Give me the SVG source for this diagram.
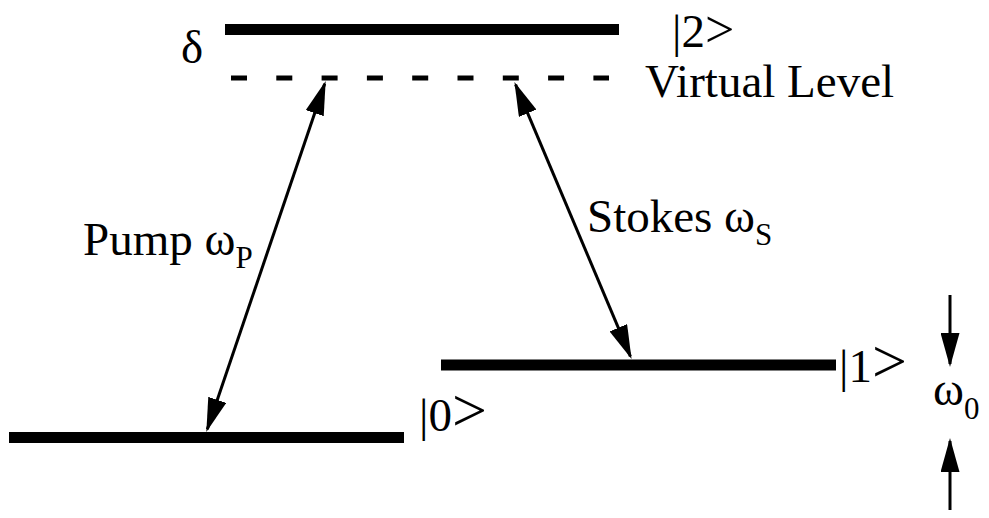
<svg xmlns="http://www.w3.org/2000/svg" width="989" height="518" viewBox="0 0 989 518">
  <style>
    text { font-family: 'Liberation Serif', 'Times New Roman', 'DejaVu Serif', serif; font-size: 47px; fill: #000; }
    .sub { font-size: 31px; }
    .ket { font-size: 62px; }
    .ket-top { font-size: 52px; }
    .level { stroke: #000; stroke-width: 11; fill: none; }
    .virtual { stroke: #000; stroke-width: 5; stroke-dasharray: 16 29.3; fill: none; }
    .arrow { stroke: #000; stroke-width: 3; fill: none; marker-end: url(#head); marker-start: url(#head); }
    .single { stroke: #000; stroke-width: 3; fill: none; marker-end: url(#head); }
  </style>
  <defs>
    <marker id="head" viewBox="0 0 34 19" refX="31" refY="9.5" markerWidth="34" markerHeight="19" markerUnits="userSpaceOnUse" orient="auto-start-reverse">
      <path d="M0,0 L34,9.5 L0,19 z" fill="#000"/>
    </marker>
  </defs>
  <rect width="989" height="518" fill="#fff"/>

  <g id="level2">
    <line class="level" x1="225" y1="29.5" x2="619" y2="29.5"/>
    <text x="672" y="47">|2<tspan class="ket-top">&gt;</tspan></text>
  </g>
  <g id="delta">
    <text x="181" y="63">δ</text>
  </g>
  <g id="virtual">
    <line class="virtual" x1="231" y1="78" x2="609" y2="78"/>
    <text x="645" y="97">Virtual Level</text>
  </g>
  <g id="level1">
    <line class="level" x1="441" y1="365" x2="836" y2="365"/>
    <text x="839" y="382">|1<tspan class="ket">&gt;</tspan></text>
  </g>
  <g id="level0">
    <line class="level" x1="9" y1="437.5" x2="404" y2="437.5"/>
    <text x="419" y="431">|0<tspan class="ket">&gt;</tspan></text>
  </g>

  <g id="connectors">
    <line class="arrow" x1="324.7" y1="83.8" x2="207.3" y2="429.2"/>
    <line class="arrow" x1="515.6" y1="84.7" x2="630.4" y2="356.3"/>
    <line class="single" x1="950" y1="295" x2="950" y2="364"/>
    <line class="single" x1="950" y1="510" x2="950" y2="441"/>
  </g>

  <g id="pump-label">
    <text x="83" y="255">Pump ω<tspan class="sub" dy="13">P</tspan></text>
  </g>
  <g id="stokes-label">
    <text x="587" y="232">Stokes ω<tspan class="sub" dy="13">S</tspan></text>
  </g>
  <g id="omega0-label">
    <text x="933" y="405">ω<tspan class="sub" dy="14">0</tspan></text>
  </g>
</svg>
